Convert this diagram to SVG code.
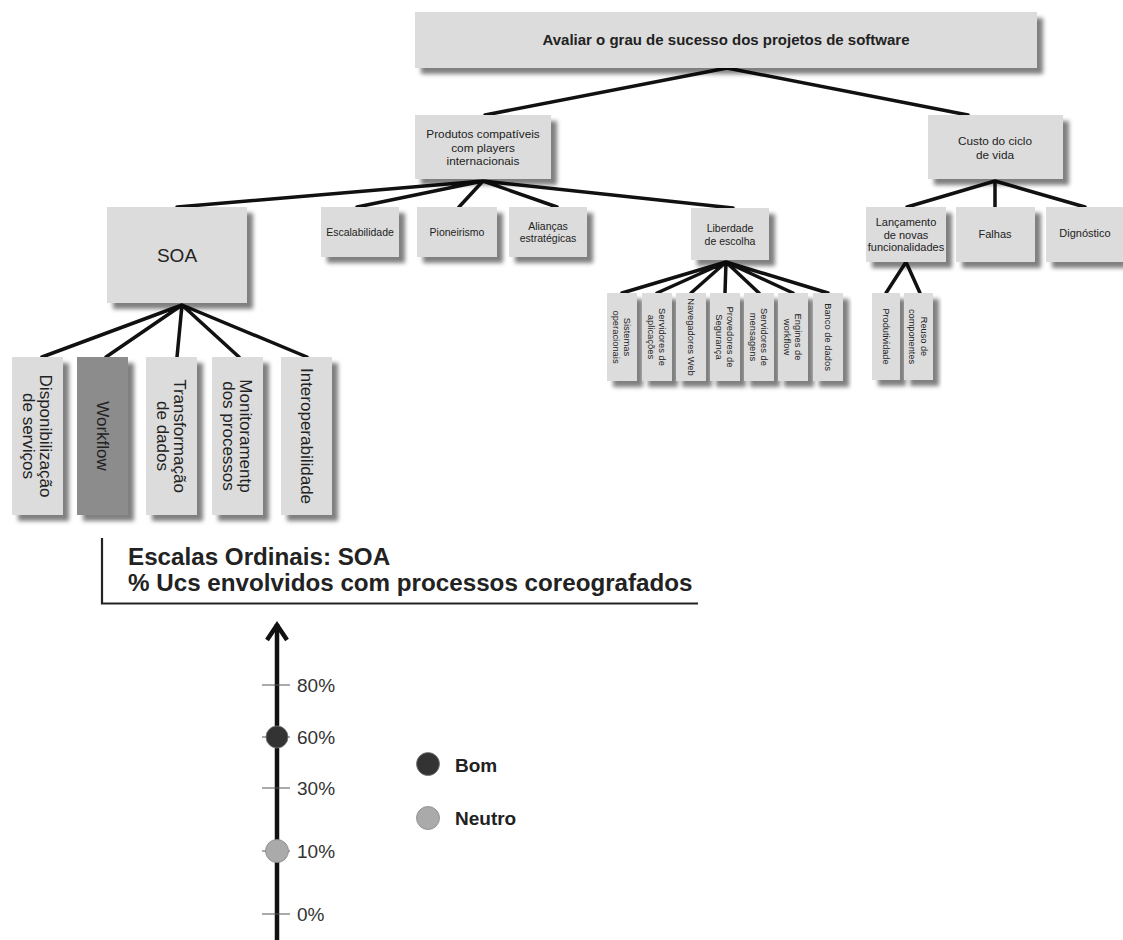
<svg xmlns="http://www.w3.org/2000/svg" width="1123" height="940" viewBox="0 0 1123 940">
  <defs>
    <filter id="shadow" x="-20%" y="-20%" width="150%" height="150%">
      <feDropShadow dx="6" dy="6" stdDeviation="2.2" flood-color="#000" flood-opacity="0.5"/>
    </filter>
  </defs>
  <style>
    text { font-family: "Liberation Sans", Arial, sans-serif; fill: #222; }
    .box { fill: #dcdcdc; filter: url(#shadow); }
    .dark { fill: #8c8c8c; }
    .edge { stroke: #111; stroke-width: 3.5; fill: none; stroke-linecap: round; }
    .c { text-anchor: middle; }
    .root { font-size: 15px; font-weight: bold; }
    .f12 { font-size: 11.8px; }
    .f11 { font-size: 11px; }
    .f105 { font-size: 10.5px; }
    .f95 { font-size: 9.4px; }
    .f9 { font-size: 9.2px; }
    .f17 { font-size: 17px; }
    .soa { font-size: 19px; }
    .title { font-size: 24.2px; font-weight: bold; }
    .tick { stroke: #555; stroke-width: 1; }
    .lbl { font-size: 19px; fill: #333; }
    .leg { font-size: 19px; font-weight: bold; }
  </style>

  <!-- connectors -->
  <g id="connectors">
    <path class="edge" d="M727 68 L485 115 M727 68 L968 115"/>
    <path class="edge" d="M483 181 L177 207 M483 181 L357 207 M483 181 L459 207 M483 181 L557 207 M483 181 L733 208"/>
    <path class="edge" d="M995 181 L907 207 M995 181 L995 207 M995 181 L1085 207"/>
    <path class="edge" d="M906 262 L886 293 M906 262 L920 293"/>
    <path class="edge" d="M726 262 L622 293 M726 262 L657 293 M726 262 L691 293 M726 262 L725 293 M726 262 L759 293 M726 262 L793 293 M726 262 L828 293"/>
    <path class="edge" d="M182 305 L42 357 M182 305 L106 357 M182 305 L177 357 M182 305 L239 357 M182 305 L307 357"/>
  </g>

  <!-- top level -->
  <g id="root">
    <rect class="box" x="415" y="12" width="622" height="56"/>
    <text class="root c" x="726" y="45">Avaliar o grau de sucesso dos projetos de software</text>
  </g>

  <g id="produtos">
    <rect class="box" x="415" y="115" width="136" height="64"/>
    <text class="f12 c" x="483" y="138">Produtos compatíveis</text>
    <text class="f12 c" x="483" y="151.5">com players</text>
    <text class="f12 c" x="483" y="165">internacionais</text>
  </g>

  <g id="custo">
    <rect class="box" x="928" y="115" width="135" height="64"/>
    <text class="f12 c" x="995" y="145">Custo do ciclo</text>
    <text class="f12 c" x="995" y="158.5">de vida</text>
  </g>

  <!-- second level -->
  <g id="soa">
    <rect class="box" x="107" y="207" width="140" height="96"/>
    <text class="soa c" x="177" y="262">SOA</text>
  </g>

  <g id="escalabilidade">
    <rect class="box" x="321" y="207" width="78" height="50"/>
    <text class="f105 c" x="360" y="236">Escalabilidade</text>
  </g>

  <g id="pioneirismo">
    <rect class="box" x="417" y="207" width="80" height="50"/>
    <text class="f105 c" x="457" y="236">Pioneirismo</text>
  </g>

  <g id="aliancas">
    <rect class="box" x="509" y="207" width="78" height="50"/>
    <text class="f105 c" x="548" y="229.5">Alianças</text>
    <text class="f105 c" x="548" y="242">estratégicas</text>
  </g>

  <g id="liberdade">
    <rect class="box" x="691" y="208" width="78" height="52"/>
    <text class="f105 c" x="730" y="232">Liberdade</text>
    <text class="f105 c" x="730" y="244.5">de escolha</text>
  </g>

  <g id="lancamento">
    <rect class="box" x="866" y="207" width="80" height="55"/>
    <text class="f11 c" x="906" y="226">Lançamento</text>
    <text class="f11 c" x="906" y="238.5">de novas</text>
    <text class="f11 c" x="906" y="251">funcionalidades</text>
  </g>

  <g id="falhas">
    <rect class="box" x="956" y="207" width="79" height="55"/>
    <text class="f11 c" x="995" y="238">Falhas</text>
  </g>

  <g id="dignostico">
    <rect class="box" x="1046" y="207" width="78" height="55"/>
    <text class="f11 c" x="1085" y="237">Dignóstico</text>
  </g>

  <!-- Liberdade de escolha: vertical leaves -->
  <g id="sistemas">
    <rect class="box" x="607" y="293" width="30" height="88"/>
    <g transform="translate(622 337) rotate(90)">
      <text class="f95 c" y="-2.2">Sistemas</text>
      <text class="f95 c" y="8.8">operacionais</text>
    </g>
  </g>
  <g id="servidores-aplicacoes">
    <rect class="box" x="642" y="293" width="30" height="88"/>
    <g transform="translate(657 337) rotate(90)">
      <text class="f95 c" y="-2.2">Servidores de</text>
      <text class="f95 c" y="8.8">aplicações</text>
    </g>
  </g>
  <g id="navegadores">
    <rect class="box" x="676" y="293" width="30" height="88"/>
    <g transform="translate(691 337) rotate(90)">
      <text class="f95 c" y="3.3">Navegadores Web</text>
    </g>
  </g>
  <g id="provedores">
    <rect class="box" x="710" y="293" width="30" height="88"/>
    <g transform="translate(725 337) rotate(90)">
      <text class="f95 c" y="-2.2">Provedores de</text>
      <text class="f95 c" y="8.8">Segurança</text>
    </g>
  </g>
  <g id="servidores-mensagens">
    <rect class="box" x="744" y="293" width="30" height="88"/>
    <g transform="translate(759 337) rotate(90)">
      <text class="f95 c" y="-2.2">Servidores de</text>
      <text class="f95 c" y="8.8">mensagens</text>
    </g>
  </g>
  <g id="engines">
    <rect class="box" x="778" y="293" width="30" height="88"/>
    <g transform="translate(793 337) rotate(90)">
      <text class="f95 c" y="-2.2">Engines de</text>
      <text class="f95 c" y="8.8">workflow</text>
    </g>
  </g>
  <g id="banco">
    <rect class="box" x="813" y="293" width="30" height="88"/>
    <g transform="translate(828 337) rotate(90)">
      <text class="f95 c" y="3.3">Banco de dados</text>
    </g>
  </g>

  <!-- Lançamento de novas funcionalidades: vertical leaves -->
  <g id="produtividade">
    <rect class="box" x="872" y="293" width="28" height="87"/>
    <g transform="translate(886 336.5) rotate(90)">
      <text class="f9 c" y="3.2">Produtividade</text>
    </g>
  </g>
  <g id="reuso">
    <rect class="box" x="904" y="293" width="29" height="87"/>
    <g transform="translate(918.5 336.5) rotate(90)">
      <text class="f9 c" y="-2.8">Reuso de</text>
      <text class="f9 c" y="9.2">componentes</text>
    </g>
  </g>

  <!-- SOA: vertical leaves -->
  <g id="disponibilizacao">
    <rect class="box" x="12" y="357" width="51" height="158"/>
    <g transform="translate(37.5 436) rotate(90)">
      <text class="f17 c" y="-2.5">Disponibilização</text>
      <text class="f17 c" y="14.5">de serviços</text>
    </g>
  </g>
  <g id="workflow">
    <rect class="box dark" x="77" y="357" width="51" height="158"/>
    <g transform="translate(102.5 436) rotate(90)">
      <text class="f17 c" y="6">Workflow</text>
    </g>
  </g>
  <g id="transformacao">
    <rect class="box" x="146" y="357" width="51" height="158"/>
    <g transform="translate(171.5 436) rotate(90)">
      <text class="f17 c" y="-2.5">Transformação</text>
      <text class="f17 c" y="14.5">de dados</text>
    </g>
  </g>
  <g id="monitoramento">
    <rect class="box" x="212" y="357" width="51" height="158"/>
    <g transform="translate(237.5 436) rotate(90)">
      <text class="f17 c" y="-2.5">Monitoramentp</text>
      <text class="f17 c" y="14.5">dos processos</text>
    </g>
  </g>
  <g id="interoperabilidade">
    <rect class="box" x="281" y="357" width="51" height="158"/>
    <g transform="translate(306.5 436) rotate(90)">
      <text class="f17 c" y="6">Interoperabilidade</text>
    </g>
  </g>

  <!-- ordinal scale -->
  <g id="scale-title">
    <path d="M102 538 V603.5 H698" fill="none" stroke="#222" stroke-width="2.2"/>
    <text class="title" x="128" y="565">Escalas Ordinais: SOA</text>
    <text class="title" x="128" y="591">% Ucs envolvidos com processos coreografados</text>
  </g>

  <g id="scale-axis">
    <line x1="277" y1="940" x2="277" y2="624" stroke="#111" stroke-width="4.5"/>
    <path d="M267 640 L277 625 L287 640" fill="none" stroke="#111" stroke-width="4.5" stroke-linejoin="miter"/>
    <line class="tick" x1="262" y1="685" x2="290" y2="685"/>
    <line class="tick" x1="262" y1="737" x2="290" y2="737"/>
    <line class="tick" x1="262" y1="788" x2="290" y2="788"/>
    <line class="tick" x1="262" y1="851" x2="290" y2="851"/>
    <line class="tick" x1="262" y1="914" x2="290" y2="914"/>
    <text class="lbl" x="297" y="692">80%</text>
    <text class="lbl" x="297" y="744">60%</text>
    <text class="lbl" x="297" y="795">30%</text>
    <text class="lbl" x="297" y="858">10%</text>
    <text class="lbl" x="297" y="921">0%</text>
    <circle cx="277" cy="737" r="11" fill="#333" stroke="#777" stroke-width="0.8"/>
    <circle cx="277" cy="851" r="11.5" fill="#aaa" stroke="#888" stroke-width="0.8"/>
  </g>

  <g id="legend">
    <circle cx="428" cy="764" r="11.5" fill="#333" stroke="#777" stroke-width="0.8"/>
    <text class="leg" x="455" y="772">Bom</text>
    <circle cx="428" cy="818" r="11.5" fill="#aaa" stroke="#888" stroke-width="0.8"/>
    <text class="leg" x="455" y="825">Neutro</text>
  </g>
</svg>
